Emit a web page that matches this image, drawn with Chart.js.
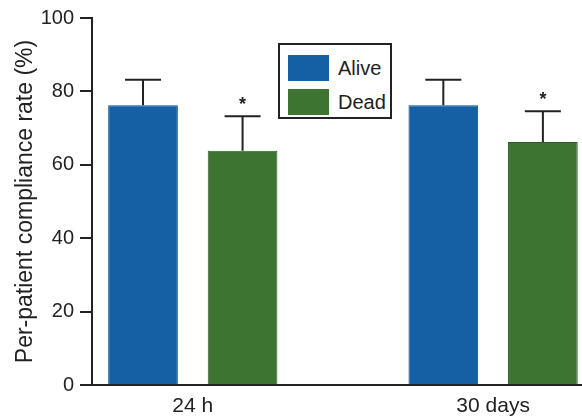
<!DOCTYPE html>
<html lang="en">
<head>
<meta charset="UTF-8">
<title>Per-patient compliance rate</title>
<script src="https://cdn.jsdelivr.net/npm/chart.js@4/dist/chart.umd.min.js"></script>
<style>
  * { box-sizing: border-box; margin: 0; padding: 0; }
  body { background: #fff; width: 582px; height: 417px; overflow: hidden; font-family: "Liberation Sans", Arial, sans-serif; }
  #wrap { position: relative; width: 582px; height: 417px; }
  #legend { position: absolute; left: 278px; top: 43px; width: 114px; height: 76px; border: 2px solid #222; background: #fff; padding: 6px 0 0 8px; }
  .row { display: flex; align-items: center; height: 34px; }
  .sw { width: 41px; height: 26px; margin-right: 9px; }
  .lbl { font-size: 20px; color: #222; }
</style>
</head>
<body>
<div id="wrap">
  <canvas id="chart" width="582" height="417"></canvas>
  <div id="legend"></div>
</div>
<script>
const categories = ['24 h', '30 days'];
const seriesNames = ['Alive', 'Dead'];
const aliveValues = [76.2, 76.2];
const deadValues = [63.8, 66.2];
const aliveErrors = [7.0, 7.0];
const deadErrors = [9.4, 8.4];
const deadMarks = ['*', '*'];
const yTicks = [0, 20, 40, 60, 80, 100];

const COLORS = ['#155fa5', '#3e7431'];
const EDGES = ['#0e4c88', '#2e5b24'];
const INK = '#222';

// bars sit on a linear x axis so the first group can be offset from the y axis
const points = vals => vals.map((v, i) => ({ x: i, y: v }));

const series = [
  { values: aliveValues, errors: aliveErrors, marks: null },
  { values: deadValues, errors: deadErrors, marks: deadMarks },
];

const errorBars = {
  id: 'errorBars',
  afterDatasetsDraw(chart) {
    const { ctx, scales: { y } } = chart;
    ctx.save();
    ctx.strokeStyle = INK;
    ctx.fillStyle = INK;
    ctx.lineWidth = 2;
    series.forEach((s, di) => {
      const meta = chart.getDatasetMeta(di);
      meta.data.forEach((bar, i) => {
        const top = y.getPixelForValue(s.values[i] + s.errors[i]);
        ctx.beginPath();
        ctx.moveTo(bar.x, bar.y);
        ctx.lineTo(bar.x, top);
        ctx.moveTo(bar.x - 18, top);
        ctx.lineTo(bar.x + 18, top);
        ctx.stroke();
        if (s.marks && s.marks[i]) {
          ctx.font = 'bold 18px "Liberation Sans", Arial, sans-serif';
          ctx.textAlign = 'center';
          ctx.textBaseline = 'alphabetic';
          ctx.fillText(s.marks[i], bar.x, top - 6);
        }
      });
    });
    ctx.restore();
  }
};

new Chart(document.getElementById('chart'), {
  type: 'bar',
  data: {
    datasets: series.map((s, i) => ({
      label: seriesNames[i],
      data: points(s.values),
      backgroundColor: COLORS[i],
      borderColor: EDGES[i],
      borderWidth: 1,
      categoryPercentage: 0.663,
      barPercentage: 0.70,
    })),
  },
  options: {
    responsive: false,
    animation: false,
    layout: { padding: { top: 15, right: 0, left: 0, bottom: 0 } },
    plugins: { legend: { display: false }, tooltip: { enabled: false } },
    scales: {
      x: {
        type: 'linear',
        offset: false,
        min: -0.3356,
        max: 1.296,
        afterBuildTicks: s => { s.ticks = categories.map((c, i) => ({ value: i })); },
        afterFit: s => { s.height = 32; },
        grid: { display: false },
        border: { display: true, color: INK, width: 2 },
        ticks: {
          color: INK,
          padding: 1,
          font: { size: 21, family: '"Liberation Sans", Arial, sans-serif' },
          callback: v => categories[v],
        },
      },
      y: {
        min: 0,
        max: 100,
        afterBuildTicks: s => { s.ticks = yTicks.map(v => ({ value: v })); },
        afterFit: s => { s.width = 92; },
        grid: { drawOnChartArea: false, drawTicks: true, tickLength: 12, color: INK, lineWidth: 2 },
        border: { display: true, color: INK, width: 2 },
        ticks: {
          color: INK,
          padding: 6,
          font: { size: 20, family: '"Liberation Sans", Arial, sans-serif' },
        },
        title: {
          display: true,
          text: 'Per-patient compliance rate (%)',
          color: INK,
          padding: { top: 12, bottom: 0 },
          font: { size: 23, family: '"Liberation Sans", Arial, sans-serif' },
        },
      },
    },
  },
  plugins: [errorBars],
});

document.getElementById('legend').innerHTML = seriesNames.map((n, i) =>
  `<div class="row"><div class="sw" style="background:${COLORS[i]}"></div><span class="lbl">${n}</span></div>`
).join('');
</script>
</body>
</html>
